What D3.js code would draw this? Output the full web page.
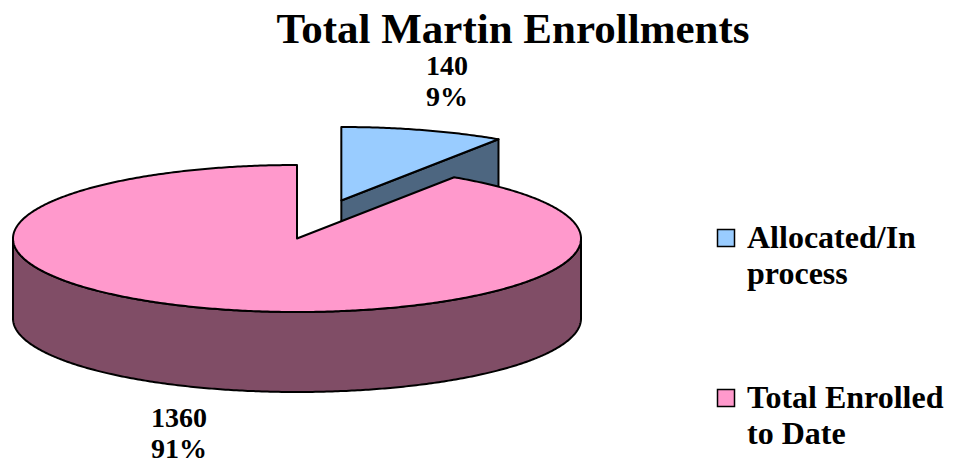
<!DOCTYPE html>
<html>
<head>
<meta charset="utf-8">
<script src="https://cdn.jsdelivr.net/npm/d3@7"></script>
<style>
  html, body { margin: 0; padding: 0; background: #fff; }
  svg { display: block; }
</style>
</head>
<body>
<svg id="chart" width="955" height="466"></svg>
<script>
// Enrollment breakdown
const categories = ["Allocated/In process", "Total Enrolled to Date"];
const legendLines = [["Allocated/In", "process"], ["Total Enrolled", "to Date"]];
const values = [140, 1360];
const percentLabels = ["9%", "91%"];
const topColors = ["#99CCFF", "#FF99CC"];
const sideColors = ["#4D6680", "#804D66"];

const FONT = "'Liberation Serif', 'Times New Roman', Tinos, 'DejaVu Serif', serif";

const svg = d3.select("#chart");

function boldText(sel, size) {
  return sel.append("text")
    .attr("font-family", FONT)
    .attr("font-weight", "bold")
    .attr("font-size", size)
    .attr("fill", "#000");
}

// Title
boldText(svg, 43)
  .attr("x", 513).attr("y", 43)
  .attr("text-anchor", "middle")
  .text("Total Martin Enrollments");

// 3D pie geometry (tilted ellipse with extruded rim)
const cx = 297, cy = 238.5, rx = 284, ry = 73.5, depth = 80;
const explode = [0.54, 0];

const pie = d3.pie().sort(null).startAngle(0).endAngle(2 * Math.PI);
const arcs = pie(values);

function pt(a, dy, off) {
  return [cx + off[0] + rx * Math.sin(a), cy + off[1] - ry * Math.cos(a) + dy];
}
function offsetFor(d, i) {
  const mid = (d.startAngle + d.endAngle) / 2;
  return [explode[i] * rx * Math.sin(mid), -explode[i] * ry * Math.cos(mid)];
}
function arcPoints(a0, a1, dy, off) {
  const n = Math.max(2, Math.ceil(Math.abs(a1 - a0) / 0.01));
  const s = d3.scaleLinear().domain([0, n]).range([a0, a1]);
  return d3.range(n + 1).map(k => pt(s(k), dy, off));
}
const line = d3.line();

const g = svg.append("g");

function face(pts, fill) {
  g.append("path")
    .attr("d", line(pts) + "Z")
    .attr("fill", fill).attr("stroke", "#000").attr("stroke-width", 2)
    .attr("stroke-linejoin", "round");
}

arcs.forEach((d, i) => {
  const off = offsetFor(d, i);
  const apexTop = [cx + off[0], cy + off[1]];
  const apexBot = [apexTop[0], apexTop[1] + depth];

  // cut face at the end angle (visible when it faces the viewer)
  const ea = d.endAngle;
  if (Math.sin(ea) > 0 && ea < Math.PI) {
    face([apexTop, pt(ea, 0, off), pt(ea, depth, off), apexBot], sideColors[i]);
  }
  // cut face at the start angle (visible when it faces the viewer)
  const sa = d.startAngle;
  if (Math.sin(sa) < -1e-6) {
    face([apexTop, pt(sa, 0, off), pt(sa, depth, off), apexBot], sideColors[i]);
  }

  // outer rim: only the front half (angles between PI/2 and 3PI/2) is visible
  const r0 = Math.max(d.startAngle, Math.PI / 2);
  const r1 = Math.min(d.endAngle, 3 * Math.PI / 2);
  if (r1 > r0) {
    face(arcPoints(r0, r1, 0, off).concat(arcPoints(r1, r0, depth, off)), sideColors[i]);
  }

  // top face
  face([apexTop].concat(arcPoints(d.startAngle, d.endAngle, 0, off)), topColors[i]);
});

// Data labels (value and percentage)
const labelPos = [[447, 75], [179, 427]];
arcs.forEach((d, i) => {
  const t = boldText(svg, 28).attr("text-anchor", "middle");
  t.append("tspan").attr("x", labelPos[i][0]).attr("y", labelPos[i][1]).text(d.data);
  t.append("tspan").attr("x", labelPos[i][0]).attr("y", labelPos[i][1] + 31).text(percentLabels[i]);
});

// Legend
const legendY = [248, 408];
categories.forEach((c, i) => {
  const lg = svg.append("g").attr("class", "legend-item").attr("data-name", c);
  lg.append("rect")
    .attr("x", 717.5).attr("y", legendY[i] - 18.5)
    .attr("width", 17).attr("height", 17)
    .attr("fill", topColors[i]).attr("stroke", "#000").attr("stroke-width", 1.5);
  const t = boldText(lg, 32);
  legendLines[i].forEach((ln, k) => {
    t.append("tspan").attr("x", 747).attr("y", legendY[i] + k * 36).text(ln);
  });
});
</script>
</body>
</html>
